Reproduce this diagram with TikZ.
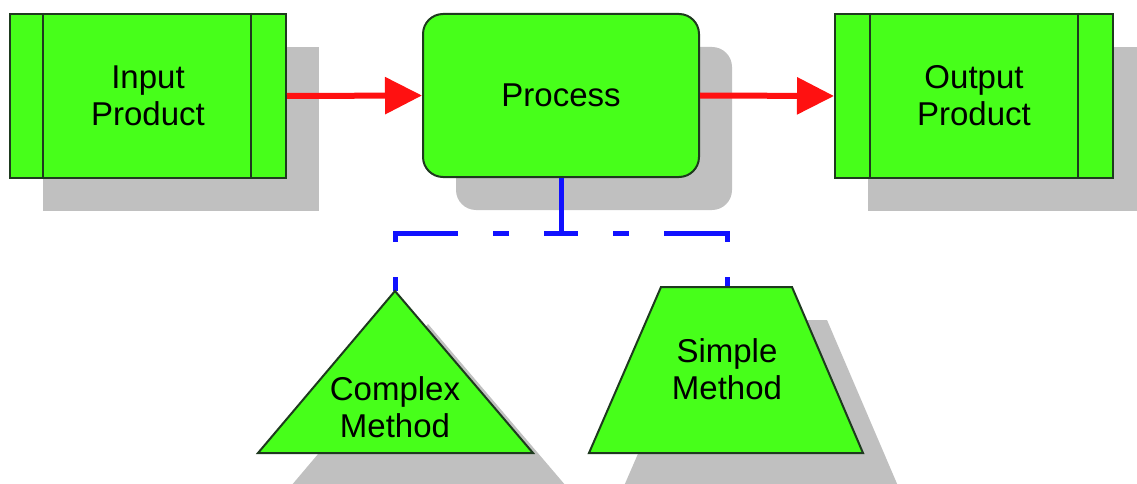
\documentclass[tikz,border=0pt]{standalone}
\usepackage{fontspec}
\setmainfont{Liberation Sans}
\usetikzlibrary{arrows.meta}
\definecolor{boxgreen}{RGB}{71,255,26}
\definecolor{boxedge}{RGB}{30,58,30}
\definecolor{shadowgray}{RGB}{192,192,192}
\definecolor{flowred}{RGB}{255,17,17}
\definecolor{linkblue}{RGB}{17,17,255}
\begin{document}
\begin{tikzpicture}[x=1pt,y=-1pt,
  box/.style={draw=boxedge, line width=2pt, fill=boxgreen, inner sep=0pt},
  shade/.style={fill=shadowgray, draw=none},
  lbl/.style={font=\fontsize{33}{37}\selectfont, align=center, text=black},
  bar/.style={draw=boxedge, line width=2pt},
  flow/.style={draw=flowred, line width=6pt, -{Triangle[length=37pt,width=36pt]}},
  link/.style={draw=linkblue, line width=5pt, dash pattern=on 72pt off 35pt on 16pt off 35pt}]
\useasboundingbox (0,0) rectangle (1137,484);
\clip (0,0) rectangle (1137,484);
% shadows
\fill[shade] (43,47) rectangle (319,211);
\fill[shade, rounded corners=20pt] (456,47) rectangle (732,210);
\fill[shade] (868,47) rectangle (1146,211);
\fill[shade] (428,324) -- (566,486) -- (291,486) -- cycle;
\fill[shade] (696,320) -- (827,320) -- (898,486) -- (624,486) -- cycle;
% boxes
\node[box, lbl, minimum width=276pt, minimum height=164pt] (in) at (148,96) {Input\\Product};
\draw[bar] ([xshift=34pt]in.north west) -- ([xshift=34pt]in.south west);
\draw[bar] ([xshift=-36pt]in.north east) -- ([xshift=-36pt]in.south east);
\node[box, lbl, rounded corners=20pt, minimum width=276pt, minimum height=163pt] (proc) at (561,95.5) {Process};
\node[box, lbl, minimum width=278pt, minimum height=164pt] (out) at (974,96) {Output\\Product};
\draw[bar] ([xshift=36pt]out.north west) -- ([xshift=36pt]out.south west);
\draw[bar] ([xshift=-36pt]out.north east) -- ([xshift=-36pt]out.south east);
% flow arrows
\draw[flow] (in.east) -- (proc.west);
\draw[flow] (proc.east) -- (out.west);
% method connectors
\coordinate (cmtop) at (395,291);
\coordinate (smtop) at (727,287);
\draw[link] (proc.south) -- ++(0,55) -| (cmtop);
\draw[link] (proc.south) -- ++(0,55) -| (smtop);
% methods
\draw[box] (cmtop) -- (533,453) -- (258,453) -- cycle;
\node[lbl] (cm) at (395,407) {Complex\\Method};
\draw[box] (661,287) -- (792,287) -- (863,453) -- (589,453) -- cycle;
\node[lbl] (sm) at (727,369) {Simple\\Method};
\end{tikzpicture}
\end{document}
